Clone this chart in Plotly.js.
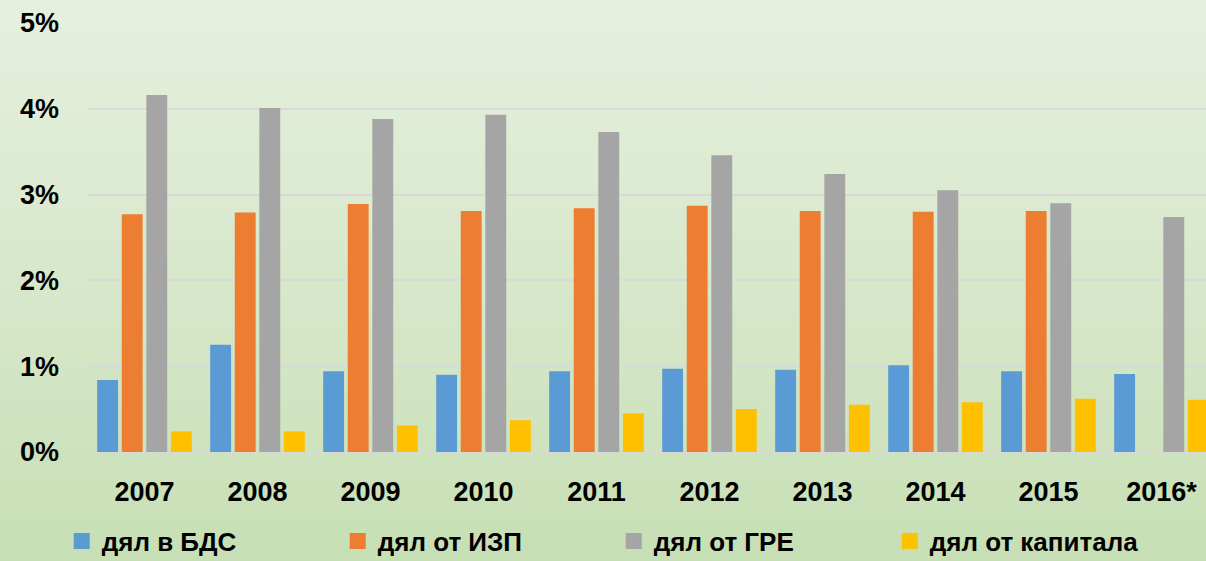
<!DOCTYPE html>
<html>
<head>
<meta charset="utf-8">
<script src="https://cdn.plot.ly/plotly-3.0.1.min.js"></script>
<style>
  html, body { margin: 0; padding: 0; width: 1206px; height: 561px; overflow: hidden;
    background: linear-gradient(to bottom, #e6f0de 0%, #d6e7c9 55%, #c6dfb4 100%); }
  #chart { width: 1206px; height: 580px; }
</style>
</head>
<body>
<div id="chart"></div>
<script>
const categories = ['2007','2008','2009','2010','2011','2012','2013','2014','2015','2016*'];
const seriesNames = ['дял в БДС', 'дял от ИЗП', 'дял от ГРЕ', 'дял от капитала'];
const shareGDP     = [0.0084, 0.0125, 0.0094, 0.0090, 0.0094, 0.0097, 0.0096, 0.0101, 0.0094, 0.0091];
const shareWages   = [0.0277, 0.0279, 0.0289, 0.0281, 0.0284, 0.0287, 0.0281, 0.0280, 0.0281, null];
const shareGRE     = [0.0416, 0.0401, 0.0388, 0.0393, 0.0373, 0.0346, 0.0324, 0.0305, 0.0290, 0.0274];
const shareCapital = [0.0024, 0.0024, 0.0031, 0.0037, 0.0045, 0.0050, 0.0055, 0.0058, 0.0062, 0.0061];
const yTicks = [0, 0.01, 0.02, 0.03, 0.04, 0.05];

const colors = ['#5b9bd5', '#ed7d31', '#a5a5a5', '#ffc000'];
const seriesValues = [shareGDP, shareWages, shareGRE, shareCapital];

const font = {family: 'Liberation Sans, Arial, sans-serif', size: 27, color: '#000000', weight: 'bold'};
const legendFont = {family: 'Liberation Sans, Arial, sans-serif', size: 26, color: '#000000', weight: 'bold'};

const traces = [];
seriesValues.forEach((vals, i) => {
  traces.push({
    type: 'bar', x: categories, y: vals, name: seriesNames[i],
    marker: {color: colors[i]}, showlegend: false, hoverinfo: 'x+y'
  });
});
// legend entries with larger square symbols
seriesNames.forEach((n, i) => {
  traces.push({
    type: 'scatter', mode: 'markers', x: [null], y: [null], name: n,
    marker: {symbol: 'square', size: 19, color: colors[i]}, showlegend: true, hoverinfo: 'skip'
  });
});

const H = 580;
const layout = {
  width: 1206, height: H,
  paper_bgcolor: 'rgba(0,0,0,0)', plot_bgcolor: 'rgba(0,0,0,0)',
  margin: {l: 88, r: 0, t: 23, b: H - 452},
  barmode: 'group', bargap: 0.13, bargroupgap: 0.15,
  font: font,
  xaxis: {
    type: 'category', range: [-0.5, 9.394], showgrid: false, zeroline: false, showline: false,
    ticks: '', tickfont: font, ticklabelstandoff: 21, fixedrange: true
  },
  yaxis: {
    range: [0, 0.05], tickvals: yTicks, tickformat: '.0%', showgrid: true,
    gridcolor: '#d9d9d9', gridwidth: 2, zeroline: true, zerolinecolor: '#d9d9d9', zerolinewidth: 2,
    showline: false, ticks: '', tickfont: font, ticklabelstandoff: 28, fixedrange: true
  },
  legend: {
    orientation: 'h', x: -0.0235, xanchor: 'left', y: -89 / 429, yanchor: 'middle',
    font: legendFont, entrywidth: 231, entrywidthmode: 'pixels', bgcolor: 'rgba(0,0,0,0)',
    itemsizing: 'trace'
  },
  showlegend: true
};

Plotly.newPlot('chart', traces, layout, {displayModeBar: false, staticPlot: true});
</script>
</body>
</html>
